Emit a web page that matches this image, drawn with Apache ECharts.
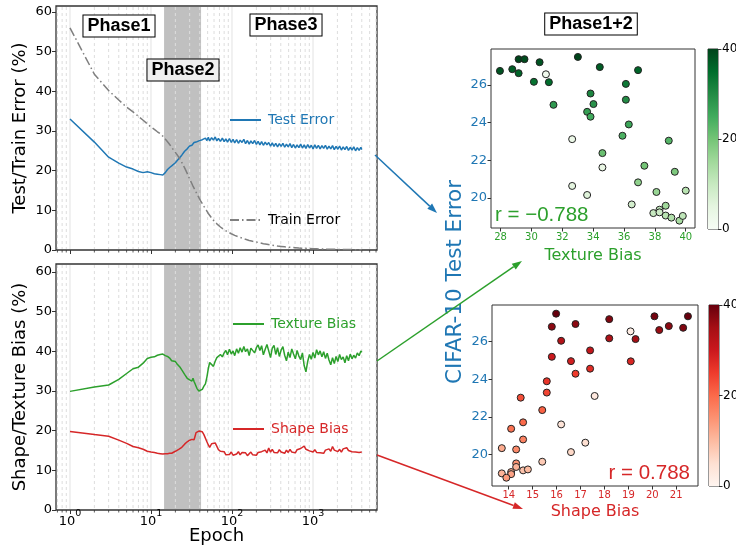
<!DOCTYPE html>
<html>
<head>
<meta charset="utf-8">
<script src="https://cdn.jsdelivr.net/npm/echarts@6/dist/echarts.min.js"></script>
<style>
  html, body { margin: 0; background: #fff; }
  #main { width: 736px; height: 548px; }
</style>
</head>
<body>
<div id="main"></div>
<script>
// epochs used for the training curves
const epochs = [
  1, 2, 3, 4, 5, 6, 7, 8, 9, 10, 11, 12, 13, 14, 15, 16, 17, 18, 19, 20,
  21, 22, 23, 24, 25, 26, 27, 28, 29, 30, 31, 32, 33, 34, 35, 36, 37, 38, 39, 40, 41,
  43, 45, 47, 49, 51, 53,
  56, 59, 62, 65, 68, 72,
  76, 80, 84, 88, 93, 98,
  103, 108, 114, 120, 126, 133,
  140, 147, 155, 163, 171, 180,
  190, 200, 210, 221, 232, 244,
  257, 270, 284, 299, 314, 330,
  347, 365, 384, 404, 425, 447,
  470, 494, 520, 547, 575, 605,
  636, 669, 704, 740, 778, 818,
  861, 905, 952, 1001, 1053, 1107,
  1164, 1224, 1288, 1354, 1424, 1498,
  1575, 1656, 1742, 1832, 1926, 2026,
  2130, 2240, 2356, 2478, 2606, 2740,
  2882, 3031, 3187, 3352, 3525, 3707,
  3898, 4000
]

const testError = [
  33.0, 27.2, 23.4, 21.9, 20.9, 20.4, 19.8, 19.5, 19.7, 19.5,
  19.2, 19.1, 19.0, 18.9, 19.5, 20.3, 20.8, 21.2, 21.6, 22.0,
  22.5, 23.0, 23.5, 23.9, 24.4, 24.9, 25.3, 25.5, 25.9, 26.2,
  26.6, 26.4, 26.9, 27.1, 26.9, 27.2, 27.4, 27.1, 27.5, 27.6, 27.4,
  27.8, 27.4, 28.2, 27.6, 28.4, 27.5,
  28.3, 27.7, 28.5, 27.5, 28.1, 27.4,
  28.2, 27.3, 28.0, 27.2, 28.1, 27.1,
  27.9, 27.0, 27.8, 26.9, 27.7, 27.1,
  27.9, 26.8, 27.6, 26.7, 27.5, 26.8,
  27.6, 26.6, 27.4, 26.5, 27.3, 26.4,
  27.2, 26.5, 27.1, 26.2, 27.0, 26.1,
  26.9, 26.0, 26.8, 26.1, 26.9, 25.9,
  26.7, 26.0, 26.8, 25.8, 26.6, 25.7,
  26.5, 25.8, 26.7, 25.7, 26.5, 25.6,
  26.6, 25.7, 26.4, 25.5, 26.5, 25.6,
  26.4, 25.5, 26.3, 25.6, 26.4, 25.4,
  26.2, 25.5, 26.3, 25.3, 26.1, 25.4,
  26.2, 25.2, 26.0, 25.3, 26.1, 25.1,
  25.9, 25.2, 26.0, 25.0, 25.8, 25.1,
  25.9, 25.3
]

const trainError = [
  56.0, 44.3, 40.2, 37.8, 36.0, 34.8, 33.7, 32.7, 31.8, 31.0,
  30.4, 29.8, 29.3, 28.7, 28.0, 27.3, 26.6, 25.9, 25.2, 24.6,
  24.0, 23.4, 22.8, 22.1, 21.4, 20.7, 20.0, 19.3, 18.6, 17.9,
  17.3, 16.7, 16.1, 15.6, 15.1, 14.6, 14.1, 13.6, 13.2, 12.8, 12.4,
  11.7, 11.0, 10.4, 9.8, 9.2, 8.7,
  8.1, 7.5, 7.0, 6.6, 6.2, 5.8,
  5.4, 5.1, 4.8, 4.6, 4.3, 4.1,
  3.9, 3.7, 3.5, 3.3, 3.1, 3.0,
  2.8, 2.7, 2.6, 2.4, 2.3, 2.2,
  2.1, 2.0, 1.9, 1.8, 1.7, 1.6,
  1.5, 1.45, 1.35, 1.3, 1.2, 1.15,
  1.1, 1.0, 0.95, 0.9, 0.85, 0.8,
  0.75, 0.7, 0.68, 0.64, 0.6, 0.57,
  0.54, 0.5, 0.48, 0.45, 0.43, 0.41,
  0.39, 0.37, 0.35, 0.33, 0.31, 0.3,
  0.28, 0.27, 0.25, 0.24, 0.23, 0.22,
  0.2, 0.19, 0.18, 0.17, 0.16, 0.15,
  0.14, 0.14, 0.13, 0.12, 0.12, 0.11,
  0.1, 0.1, 0.09, 0.09, 0.08, 0.08,
  0.07, 0.07
]

const textureBias = [
  29.9, 31.0, 31.5, 32.9, 34.4, 35.6, 36.0, 37.0, 38.2, 38.5,
  38.6, 39.0, 39.2, 39.3, 38.9, 38.7, 38.3, 37.6, 37.3, 37.4,
  36.8, 36.4, 35.9, 35.3, 35.0, 34.2, 33.8, 33.2, 33.6, 32.8,
  33.1, 32.5, 33.2, 32.4, 31.8, 31.2, 30.6, 30.2, 30.0, 29.9, 30.1,
  30.4, 31.2, 31.8, 33.5, 35.6, 37.2,
  36.8, 36.2, 37.5, 38.4, 37.9, 39.2,
  38.6, 39.6, 40.2, 39.1, 40.5, 39.3,
  40.1, 38.9, 40.6, 39.5, 40.9, 39.8,
  41.2, 39.9, 40.6, 38.9, 40.8, 41.3,
  39.6, 40.9, 41.6, 40.2, 41.4, 39.1,
  40.5, 41.7, 40.1, 38.4, 40.8, 41.5,
  39.2, 40.9, 38.7, 40.3, 41.2, 39.0,
  37.6, 39.8, 38.4, 40.6, 39.3, 38.1,
  40.2, 38.8, 37.9, 39.6, 36.4, 34.8,
  37.5, 39.2, 38.0, 39.7, 38.3, 40.4,
  39.1, 40.1, 38.6, 39.9, 38.2, 39.5,
  37.8, 36.6, 38.4, 36.9, 38.7, 37.4,
  39.2, 37.9, 38.6, 37.1, 38.9, 37.6,
  39.3, 38.1, 39.0, 38.3, 39.6, 38.9,
  40.1, 39.7
]

const shapeBias = [
  19.8, 19.0, 18.6, 17.6, 16.8, 16.0, 15.7, 15.3, 14.8, 14.6,
  14.5, 14.3, 14.2, 14.1, 14.2, 14.2, 14.3, 14.3, 14.6, 14.8,
  15.0, 15.3, 15.5, 15.8, 16.0, 16.6, 17.0, 17.2, 17.0, 17.6,
  17.3, 17.8, 18.0, 17.7, 18.6, 19.5, 19.9, 19.6, 19.9, 19.5, 19.8,
  19.7, 19.0, 18.6, 17.2, 16.4, 15.8,
  16.7, 16.2, 16.9, 16.4, 15.2, 14.8,
  14.3, 14.7, 13.9, 14.4, 14.0, 14.6,
  13.8, 14.3, 14.1, 14.7, 13.9, 14.5,
  14.0, 14.4, 13.7, 14.2, 14.6, 13.9,
  14.3, 13.8, 14.5, 14.1, 14.7, 14.2,
  15.1, 14.4, 15.6, 14.6, 15.3, 14.5,
  15.0, 14.4, 15.2, 14.6, 14.9, 14.3,
  15.1, 14.5, 15.3, 14.6, 15.0, 14.4,
  15.2, 14.7, 15.5, 15.0, 16.1, 15.3,
  15.8, 14.9, 15.4, 14.6, 15.2, 14.5,
  15.0, 14.4, 14.9, 14.3, 15.1, 14.6,
  15.4, 14.8, 16.0, 15.1, 15.5, 14.7,
  15.3, 14.6, 15.4, 14.9, 15.7, 15.0,
  15.4, 14.7, 15.2, 14.6, 15.1, 14.5,
  14.9, 14.6
]

const phase2Range = [14.5, 41.5]
const majorEpochTicks = [1, 10, 100, 1000]
const minorEpochTicks = [0.7, 0.8, 0.9, 2, 3, 4, 5, 6, 7, 8, 9, 20, 30, 40, 50, 60, 70, 80, 90,
  200, 300, 400, 500, 600, 700, 800, 900, 2000, 3000, 4000, 5000, 6000]
const percentTicks = [0, 10, 20, 30, 40, 50, 60]

// scatter: [bias, test error], colour = epoch
const texturePoints = [
  [27.96, 26.74], [28.76, 26.83], [29.17, 27.36], [29.55, 27.36], [29.17, 26.62], [30.53, 27.2],
  [30.94, 26.56], [30.16, 26.16], [31.13, 26.14], [31.43, 24.94], [33.01, 27.48], [34.43, 26.94],
  [36.91, 26.78], [33.83, 25.54], [34.02, 24.98], [33.61, 24.57], [33.83, 24.31], [36.12, 26.05],
  [36.12, 25.21], [36.31, 23.9], [35.9, 23.3], [32.64, 23.12], [34.6, 22.38], [34.6, 21.62],
  [32.64, 20.64], [33.61, 20.16], [38.9, 23.04], [37.32, 21.71], [39.29, 21.39], [36.91, 20.83],
  [38.1, 20.32], [40.0, 20.39], [36.5, 19.66], [37.9, 19.2], [38.3, 19.38], [38.3, 19.24],
  [38.7, 19.59], [38.7, 19.07], [39.07, 18.96], [39.59, 18.8], [39.81, 19.05]
]
const textureEpochs = [
  38, 37, 40, 39, 36, 38, 2, 34, 35, 28, 40, 37, 36, 31, 29, 27, 25, 33, 30, 26, 24,
  3, 21, 4, 5, 6, 23, 20, 19, 17, 16, 12, 8, 10, 11, 9, 15, 12, 13, 14, 11
]
const shapePoints = [
  [15.98, 27.49], [15.8, 26.8], [16.79, 26.94], [16.19, 26.05], [18.2, 27.2], [18.2, 26.18],
  [20.09, 27.35], [20.29, 26.62], [20.69, 26.83], [21.29, 26.74], [21.49, 27.35], [19.09, 26.55],
  [19.3, 26.14], [19.1, 24.96], [15.8, 25.2], [16.6, 24.97], [17.4, 25.54], [17.4, 24.57],
  [16.79, 24.3], [15.59, 23.9], [15.59, 23.3], [15.4, 22.37], [17.59, 23.12], [16.19, 21.61],
  [16.6, 20.14], [17.2, 20.64], [14.5, 23.03], [14.1, 21.38], [14.6, 21.72], [14.6, 20.81],
  [14.31, 20.28], [13.71, 20.35], [15.4, 19.63], [14.31, 19.54], [14.31, 19.35], [14.6, 19.17],
  [14.8, 19.22], [14.1, 19.08], [14.1, 18.97], [13.71, 19.01], [13.9, 18.78]
]
const shapeEpochs = [
  40, 37, 37, 33, 38, 34, 39, 36, 37, 38, 40, 2, 35, 28, 30, 29, 31, 27, 25, 26, 24,
  21, 3, 4, 6, 5, 23, 19, 20, 17, 16, 12, 8, 15, 11, 9, 10, 12, 13, 11, 14
]
const errTicks = [20, 22, 24, 26]
const textureTicks = [28, 30, 32, 34, 36, 38, 40]
const shapeTicks = [14, 15, 16, 17, 18, 19, 20, 21]
const colorbarTicks = [0, 20, 40]

const FONT = 'DejaVu Sans'
const BLUE = '#1f77b4'
const GREEN = '#2ca02c'
const RED = '#d62728'
const GRAY = '#7f7f7f'
const greens = ['#f7fcf5', '#e5f5e0', '#c7e9c0', '#a1d99b', '#74c476', '#41ab5d', '#238b45', '#006d2c', '#00441b']
const reds = ['#fff5f0', '#fee0d2', '#fcbba1', '#fc9272', '#fb6a4a', '#ef3b2c', '#cb181d', '#a50f15', '#67000d']

const chart = echarts.init(document.getElementById('main'))

const pairs = vals => epochs.map((e, i) => [e, vals[i]])

const epochAxis = (gridIndex, showLabels) => ({
  type: 'log',
  logBase: 10,
  gridIndex,
  min: 0.672,
  max: 6166,
  axisLine: { show: false },
  axisTick: { show: true, length: 4, customValues: majorEpochTicks, lineStyle: { color: '#333', width: 1 } },
  axisLabel: {
    show: showLabels,
    customValues: majorEpochTicks,
    margin: 3,
    formatter: v => '{b|10}{s|' + Math.round(Math.log10(v)) + '}',
    rich: {
      b: { fontSize: 13, fontFamily: FONT, color: '#000', verticalAlign: 'bottom', lineHeight: 15 },
      s: { fontSize: 9.5, fontFamily: FONT, color: '#000', verticalAlign: 'bottom', lineHeight: 10, padding: [0, 0, 9, 0] }
    }
  },
  splitLine: { show: false },
  name: showLabels ? 'Epoch' : '',
  nameLocation: 'middle',
  nameGap: 17,
  nameMoveOverlap: false,
  nameTextStyle: { fontSize: 18, fontFamily: FONT, color: '#000' }
})

const percentAxis = (gridIndex, max, name) => ({
  type: 'value',
  gridIndex,
  min: 0,
  max,
  axisLine: { show: false },
  axisTick: { show: true, length: 4, customValues: percentTicks, lineStyle: { color: '#333' } },
  axisLabel: { customValues: percentTicks, fontSize: 13, fontFamily: FONT, color: '#000', margin: 4 },
  splitLine: { show: false },
  name,
  nameLocation: 'middle',
  nameGap: 27,
  nameMoveOverlap: false,
  nameTextStyle: { fontSize: 18, fontFamily: FONT, color: '#000' }
})

const scatterX = (gridIndex, min, max, ticks, color, name, gap) => ({
  type: 'value',
  gridIndex,
  min,
  max,
  axisLine: { show: false },
  axisTick: { show: true, length: 3.5, customValues: ticks, lineStyle: { color: '#333' } },
  axisLabel: { customValues: ticks, fontSize: 10, fontFamily: FONT, color, margin: 4 },
  splitLine: { show: false },
  name,
  nameLocation: 'middle',
  nameGap: gap,
  nameMoveOverlap: false,
  nameTextStyle: { fontSize: 16, fontFamily: FONT, color }
})

const scatterY = (gridIndex, min, max) => ({
  type: 'value',
  gridIndex,
  min,
  max,
  axisLine: { show: false },
  axisTick: { show: true, length: 3.5, customValues: errTicks, lineStyle: { color: '#333' } },
  axisLabel: { customValues: errTicks, fontSize: 13, fontFamily: FONT, color: BLUE, margin: 4 },
  splitLine: { show: false }
})

const colorbarX = gridIndex => ({
  type: 'category', gridIndex, data: ['c'], show: false
})
const colorbarY = gridIndex => ({
  type: 'value',
  gridIndex,
  min: 0,
  max: 40,
  position: 'right',
  axisLine: { show: false },
  axisTick: { show: true, length: 3.5, customValues: colorbarTicks, lineStyle: { color: '#333' } },
  axisLabel: { customValues: colorbarTicks, fontSize: 12, fontFamily: FONT, color: '#000', margin: 4 },
  splitLine: { show: false }
})

const shadeSeries = idx => ({
  type: 'custom',
  xAxisIndex: idx,
  yAxisIndex: idx,
  z: 1,
  silent: true,
  data: [[phase2Range[0], phase2Range[1]]],
  renderItem: (params, api) => {
    const cs = params.coordSys
    const x0 = api.coord([api.value(0), 1])[0]
    const x1 = api.coord([api.value(1), 1])[0]
    return {
      type: 'rect',
      shape: { x: x0, y: cs.y + 1, width: x1 - x0, height: cs.height - 2 },
      style: { fill: '#c0c0c0' }
    }
  }
})

const gridLineSeries = idx => ({
  type: 'custom',
  xAxisIndex: idx,
  yAxisIndex: idx,
  z: 2,
  silent: true,
  data: minorEpochTicks.map(v => [v, 1, 0]).concat(majorEpochTicks.map(v => [v, 1, 1])),
  renderItem: (params, api) => {
    const cs = params.coordSys
    const x = api.coord([api.value(0), 1])[0]
    const major = api.value(2) === 1
    const bottom = cs.y + cs.height
    const children = [{
      type: 'line',
      shape: { x1: x, y1: cs.y + 1, x2: x, y2: bottom - 1 },
      style: { stroke: major ? '#e2e2e2' : '#dddddd', lineWidth: 1, lineDash: major ? null : [3, 3] }
    }]
    if (!major) {
      children.push({
        type: 'line',
        shape: { x1: x, y1: bottom, x2: x, y2: bottom + 2.5 },
        style: { stroke: '#333', lineWidth: 0.8 }
      })
    }
    return { type: 'group', children }
  }
})

const lineSeries = (name, idx, vals, color, dash) => ({
  name,
  type: 'line',
  xAxisIndex: idx,
  yAxisIndex: idx,
  z: 3,
  symbol: 'none',
  silent: true,
  data: pairs(vals),
  lineStyle: { color, width: 1.5, type: dash || 'solid' },
  itemStyle: { color }
})

const legendItem = (name, left, centerY, color) => ({
  data: [name],
  left,
  top: centerY - 8,
  padding: 0,
  itemWidth: 31,
  itemHeight: 16,
  selectedMode: false,
  itemStyle: { opacity: 0 },
  textStyle: { fontSize: 14, fontFamily: FONT, color, lineHeight: 16, padding: [0, 0, 0, 2] }
})

const boxText = (text, x, y, bg) => ({
  type: 'text',
  x,
  y,
  z: 100,
  style: {
    text,
    fontFamily: 'Liberation Sans',
    fontWeight: 'bold',
    fontSize: 18,
    fill: '#000',
    align: 'center',
    verticalAlign: 'middle',
    backgroundColor: bg,
    borderColor: '#000',
    borderWidth: 1,
    padding: [2, 4, 1, 4]
  }
})

const arrow = (x1, y1, x2, y2, color) => {
  const a = Math.atan2(y2 - y1, x2 - x1)
  const L = 10
  const W = 3.5
  const bx = x2 - L * Math.cos(a)
  const by = y2 - L * Math.sin(a)
  return [
    { type: 'line', z: 100, shape: { x1, y1, x2: bx, y2: by }, style: { stroke: color, lineWidth: 1.5 } },
    {
      type: 'polygon',
      z: 100,
      shape: { points: [[x2, y2], [bx - W * Math.sin(a), by + W * Math.cos(a)], [bx + W * Math.sin(a), by - W * Math.cos(a)]] },
      style: { fill: color }
    }
  ]
}

const gridBox = (left, top, width, height, bw) => ({
  left, top, width, height,
  show: true,
  borderColor: '#333',
  borderWidth: bw,
  backgroundColor: 'transparent',
  containLabel: false,
  outerBoundsMode: 'none'
})

const option = {
  animation: false,
  backgroundColor: '#fff',
  textStyle: { fontFamily: FONT },
  grid: [
    gridBox(56, 6, 321, 244, 1.3),
    gridBox(56, 264, 321, 246, 1.3),
    gridBox(491, 49, 204, 179, 1),
    gridBox(492, 305, 206, 181, 1),
    gridBox(708, 49, 10, 180, 1),
    gridBox(709, 305, 10, 181, 1)
  ],
  xAxis: [
    epochAxis(0, false),
    epochAxis(1, true),
    scatterX(2, 27.38, 40.6, textureTicks, GREEN, 'Texture Bias', 20),
    scatterX(3, 13.3, 21.91, shapeTicks, RED, 'Shape Bias', 18),
    colorbarX(4),
    colorbarX(5)
  ],
  yAxis: [
    percentAxis(0, 61.5, 'Test/Train Error (%)'),
    percentAxis(1, 62, 'Shape/Texture Bias (%)'),
    scatterY(2, 18.41, 27.9),
    scatterY(3, 18.34, 27.95),
    colorbarY(4),
    colorbarY(5)
  ],
  visualMap: [
    { type: 'continuous', show: false, seriesIndex: 8, dimension: 2, min: 0, max: 40, inRange: { color: greens } },
    { type: 'continuous', show: false, seriesIndex: 9, dimension: 2, min: 0, max: 40, inRange: { color: reds } }
  ],
  legend: [
    legendItem('Test Error', 229, 120, BLUE),
    legendItem('Train Error', 229, 220, '#000'),
    legendItem('Texture Bias', 232, 324, GREEN),
    legendItem('Shape Bias', 232, 429, RED)
  ],
  series: [
    shadeSeries(0),
    gridLineSeries(0),
    lineSeries('Test Error', 0, testError, BLUE),
    lineSeries('Train Error', 0, trainError, GRAY, [9, 3, 1.5, 3]),
    shadeSeries(1),
    gridLineSeries(1),
    lineSeries('Texture Bias', 1, textureBias, GREEN),
    lineSeries('Shape Bias', 1, shapeBias, RED),
    {
      type: 'scatter', xAxisIndex: 2, yAxisIndex: 2, z: 3, symbolSize: 7, silent: true,
      data: texturePoints.map((p, i) => [p[0], p[1], textureEpochs[i]]),
      itemStyle: { borderColor: '#222', borderWidth: 1, opacity: 1 }
    },
    {
      type: 'scatter', xAxisIndex: 3, yAxisIndex: 3, z: 3, symbolSize: 7, silent: true,
      data: shapePoints.map((p, i) => [p[0], p[1], shapeEpochs[i]]),
      itemStyle: { borderColor: '#222', borderWidth: 1, opacity: 1 }
    },
    {
      type: 'bar', xAxisIndex: 4, yAxisIndex: 4, data: [40], barWidth: '100%', silent: true,
      itemStyle: { color: new echarts.graphic.LinearGradient(0, 1, 0, 0, greens.map((c, i) => ({ offset: i / 8, color: c }))) }
    },
    {
      type: 'bar', xAxisIndex: 5, yAxisIndex: 5, data: [40], barWidth: '100%', silent: true,
      itemStyle: { color: new echarts.graphic.LinearGradient(0, 1, 0, 0, reds.map((c, i) => ({ offset: i / 8, color: c }))) }
    }
  ],
  graphic: {
    elements: [
      boxText('Phase1', 119, 26, '#fff'),
      boxText('Phase2', 183, 70, '#efefef'),
      boxText('Phase3', 286, 25, '#fff'),
      boxText('Phase1+2', 591, 24, '#fff'),
      {
        type: 'text', x: 455, y: 282, rotation: Math.PI / 2, z: 100,
        style: { text: 'CIFAR-10 Test Error', fontFamily: FONT, fontSize: 21.5, fill: BLUE, align: 'center', verticalAlign: 'middle' }
      },
      {
        type: 'text', x: 495, y: 215, z: 100,
        style: { text: 'r = \u22120.788', fontFamily: 'Liberation Sans', fontSize: 20.5, fill: GREEN, align: 'left', verticalAlign: 'middle' }
      },
      {
        type: 'text', x: 690, y: 473, z: 100,
        style: { text: 'r = 0.788', fontFamily: 'Liberation Sans', fontSize: 20.5, fill: RED, align: 'right', verticalAlign: 'middle' }
      },
      ...arrow(375, 155, 437, 213, BLUE),
      ...arrow(377, 361, 522, 261, GREEN),
      ...arrow(377, 455, 523, 509, RED)
    ]
  }
}

chart.setOption(option)
</script>
</body>
</html>
